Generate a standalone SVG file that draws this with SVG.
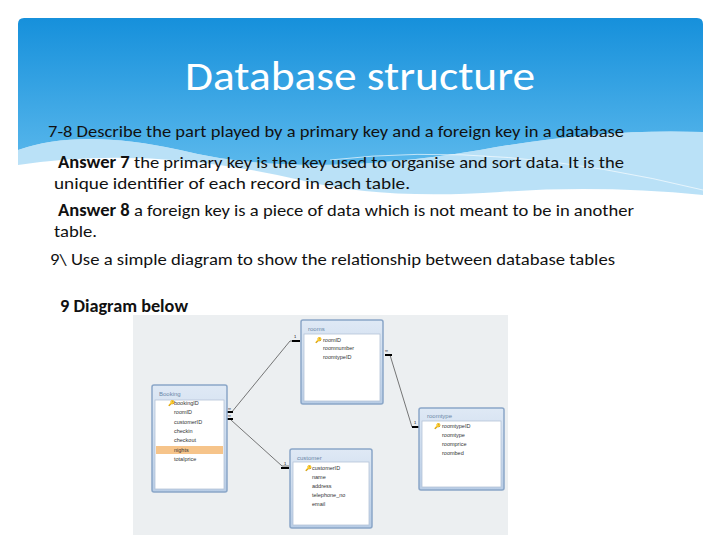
<svg xmlns="http://www.w3.org/2000/svg" width="720" height="540" viewBox="0 0 720 540">
<defs>
<linearGradient id="bg" x1="0" y1="0" x2="0" y2="1"><stop offset="0" stop-color="#1690db"/><stop offset="1" stop-color="#5ab8ec"/></linearGradient>
<linearGradient id="tb" x1="0" y1="0" x2="0" y2="1"><stop offset="0" stop-color="#dfe9f5"/><stop offset="1" stop-color="#b9cde6"/></linearGradient>
</defs>
<style>
.t{font-family:Carlito,"Liberation Sans",sans-serif;font-size:17px;fill:#111}
.b{font-weight:bold}
.tbl{fill:url(#tb);stroke:#8aa6c8;stroke-width:1.5}
.in{fill:#fff;stroke:#b4c4d8;stroke-width:.8}
.h{font-family:"Liberation Sans",sans-serif;font-size:6px;fill:#6a86a8}
.f{font-family:"Liberation Sans",sans-serif;font-size:5.5px;fill:#333}
.ln{stroke:#555;stroke-width:.8;fill:none}
.m{stroke:#000;stroke-width:2}
.n{font-family:"Liberation Sans",sans-serif;font-size:4px;fill:#000}
</style>
<rect width="720" height="540" fill="#fff"/>
<g id="banner">
<path d="M18 24 Q18 18 24 18 H697 Q703 18 703 24 V132 Q600 128 480 150 Q300 180 180 150 Q80 128 18 150 Z" fill="url(#bg)"/>
<path d="M18 150 Q80 128 180 150 Q300 180 480 150 Q600 128 703 132 V195 Q600 185 500 192 Q380 200 300 180 Q150 145 18 165 Z" fill="#8ccdf2" opacity=".6"/>
<path d="M330 160 Q500 140 703 190" stroke="#fff" stroke-width=".8" fill="none" opacity=".8"/>
<text x="360" y="90" text-anchor="middle" font-family="Carlito,'Liberation Sans',sans-serif" font-size="40" fill="#fff" textLength="350" lengthAdjust="spacingAndGlyphs">Database structure</text>
</g>
<g id="text">
<text class="t" x="48" y="137" textLength="576" lengthAdjust="spacingAndGlyphs">7-8 Describe the part played by a primary key and a foreign key in a database</text>
<text class="t" x="58" y="168" textLength="566" lengthAdjust="spacingAndGlyphs"><tspan class="b">Answer 7</tspan> the primary key is the key used to organise and sort data. It is the</text>
<text class="t" x="54" y="189" textLength="356" lengthAdjust="spacingAndGlyphs">unique identifier of each record in each table.</text>
<text class="t" x="58" y="216" textLength="576" lengthAdjust="spacingAndGlyphs"><tspan class="b">Answer 8</tspan> a foreign key is a piece of data which is not meant to be in another</text>
<text class="t" x="54" y="237" textLength="43" lengthAdjust="spacingAndGlyphs">table.</text>
<text class="t" x="50" y="265" textLength="565" lengthAdjust="spacingAndGlyphs">9\ Use a simple diagram to show the relationship between database tables</text>
<text class="t b" x="60" y="312" textLength="128" lengthAdjust="spacingAndGlyphs">9 Diagram below</text>
</g>
<rect x="133" y="315" width="375" height="220" fill="#eceff1"/>
<g id="connectors">
<path class="ln" d="M231 413 L290 341 L300 341"/>
<path class="ln" d="M231 420 L282 466 L289 466"/>
<path class="ln" d="M385 355 L390 355 L412 427 L419 427"/>
<line class="m" x1="227" y1="412" x2="233" y2="412"/><line class="m" x1="227" y1="419" x2="233" y2="419"/>
<line class="m" x1="292" y1="341" x2="300" y2="341"/><line class="m" x1="281" y1="468" x2="289" y2="468"/>
<line class="m" x1="385" y1="355" x2="392" y2="355"/><line class="m" x1="412" y1="427" x2="419" y2="427"/>
<text class="n" x="228" y="410">∞</text><text class="n" x="228" y="417">∞</text><text class="n" x="294" y="338">1</text>
<text class="n" x="385" y="352">∞</text><text class="n" x="414" y="424">1</text><text class="n" x="284" y="465">1</text>
</g>
<g id="rooms"><rect class="tbl" x="301" y="320" width="82" height="84" rx="2"/><rect class="in" x="304" y="334" width="76" height="67"/>
<text class="h" x="308" y="331">rooms</text><text class="f" x="315" y="342">🔑</text><text class="f" x="323" y="342">roomID</text><text class="f" x="323" y="350">roomnumber</text><text class="f" x="323" y="359">roomtypeID</text></g>
<g id="booking"><rect class="tbl" x="152" y="385" width="75" height="107" rx="2"/><rect class="in" x="155" y="400" width="69" height="89"/>
<text class="h" x="159" y="396">Booking</text><text class="f" x="168" y="405">🔑</text><text class="f" x="174" y="405">bookingID</text><text class="f" x="174" y="414">roomID</text><text class="f" x="174" y="424">customerID</text><text class="f" x="174" y="433">checkin</text><text class="f" x="174" y="442">checkout</text>
<rect x="156" y="446" width="67" height="8" fill="#f6c48a"/><text class="f" x="174" y="452">nights</text><text class="f" x="174" y="461">totalprice</text></g>
<g id="roomtype"><rect class="tbl" x="419" y="408" width="85" height="82" rx="2"/><rect class="in" x="422" y="421" width="79" height="66"/>
<text class="h" x="427" y="418">roomtype</text><text class="f" x="434" y="428">🔑</text><text class="f" x="442" y="428">roomtypeID</text><text class="f" x="442" y="437">roomtype</text><text class="f" x="442" y="446">roomprice</text><text class="f" x="442" y="455">roombed</text></g>
<g id="customer"><rect class="tbl" x="290" y="449" width="82" height="79" rx="2"/><rect class="in" x="293" y="462" width="76" height="63"/>
<text class="h" x="297" y="460">customer</text><text class="f" x="305" y="470">🔑</text><text class="f" x="312" y="470">customerID</text><text class="f" x="312" y="479">name</text><text class="f" x="312" y="488">address</text><text class="f" x="312" y="497">telephone_no</text><text class="f" x="312" y="506">email</text></g>
</svg>
